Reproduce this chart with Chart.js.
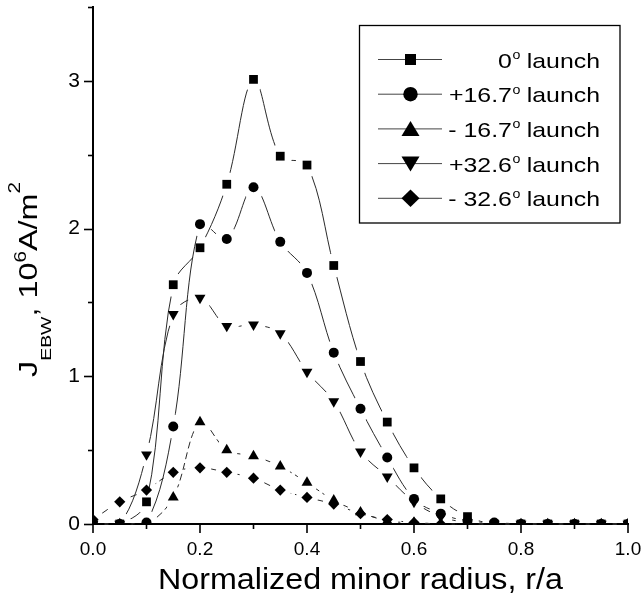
<!DOCTYPE html>
<html>
<head>
<meta charset="utf-8">
<script src="https://cdn.jsdelivr.net/npm/chart.js@4.4.1/dist/chart.umd.min.js"></script>
<style>
html,body{margin:0;padding:0;background:#fff;}
#wrap{width:642px;height:599px;position:relative;}
</style>
</head>
<body>
<div id="wrap"><canvas id="c" width="642" height="599"></canvas></div>
<script>
// ---- data ----
const radius      = [0.00,0.05,0.10,0.15,0.20,0.25,0.30,0.35,0.40,0.45,0.50,0.55,0.60,0.65,0.70,0.75,0.80,0.85,0.90,0.95,1.00];
const launch0     = [0,0,0.15,1.62,1.87,2.30,3.01,2.49,2.43,1.75,1.10,0.69,0.38,0.17,0.05,0,0,0,0,0,0];
const launchP167  = [0,0,0.01,0.66,2.03,1.93,2.28,1.91,1.70,1.16,0.78,0.45,0.17,0.07,0.02,0.01,0,0,0,0,0];
const launchM167  = [0,0,0,0.18,0.69,0.50,0.46,0.39,0.28,0.16,0.08,0.02,0.01,0,0,0,0,0,0,0,0];
const launchP326  = [0,0,0.47,1.42,1.53,1.34,1.35,1.29,1.03,0.83,0.49,0.32,0.15,0.05,0.01,0,0,0,0,0,0];
const launchM326  = [0.03,0.15,0.23,0.35,0.38,0.35,0.31,0.23,0.18,0.135,0.07,0.03,0.01,0,0,0,0,0,0,0,0];
const seriesAngles = ['0','+16.7','- 16.7','+32.6','- 32.6'];
const xTickLabels = ['0.0','0.2','0.4','0.6','0.8','1.0'];
const yTickLabels = ['0','1','2','3'];
const xTitle = 'Normalized minor radius, r/a';

const FAM = '"Liberation Sans", Arial, Helvetica, sans-serif';
const LINE = '#2a2a2a';

function toXY(vals){ return radius.map((r,i)=>({x:r,y:vals[i]})); }

const styles = [
  {pointStyle:'rect', pointRadius:6.2, rot:0, dash:[], gap:12},
  {pointStyle:'circle', pointRadius:5, rot:0, dash:[], gap:12},
  {pointStyle:'triangle', pointRadius:6.3, rot:0, dash:[7,4], gap:11},
  {pointStyle:'triangle', pointRadius:6.3, rot:180, dash:[], gap:12},
  {pointStyle:'rectRot', pointRadius:5.6, rot:0, dash:[7,4], gap:11}
];
const seriesVals = [launch0, launchP167, launchM167, launchP326, launchM326];

const datasets = [];
seriesVals.forEach((v,i)=>{
  // connecting curve (drawn first)
  datasets.push({
    label: seriesAngles[i] + '\u00B0 launch',
    data: toXY(v),
    borderColor: LINE,
    borderWidth: 1,
    borderDash: styles[i].dash,
    pointRadius: 0,
    tension: 0.35,
    fill: false,
    order: 1,
    gapRadius: styles[i].gap,
    clip: {left:0, top:0, right:0, bottom:1}
  });
  // symbols (drawn on top)
  datasets.push({
    label: seriesAngles[i] + '\u00B0 launch symbols',
    data: toXY(v),
    showLine: false,
    backgroundColor: '#000',
    pointBackgroundColor: '#000',
    pointBorderColor: '#000',
    pointBorderWidth: 0,
    pointStyle: styles[i].pointStyle,
    pointRadius: styles[i].pointRadius,
    pointRotation: styles[i].rot,
    order: 0,
    clip: {left:0, top:0, right:0, bottom:1}
  });
});

// Origin-style gaps: the curve of each series is not drawn next to its own symbols
const gapPlugin = {
  id: 'gaps',
  beforeDatasetDraw(chart, args){
    const ds = chart.data.datasets[args.index];
    if (!ds.gapRadius) return;
    const ctx = chart.ctx;
    ctx.save();
    ctx.beginPath();
    ctx.rect(0, 0, chart.width, chart.height);
    args.meta.data.forEach(p => {
      ctx.moveTo(p.x + ds.gapRadius, p.y);
      ctx.arc(p.x, p.y, ds.gapRadius, 0, Math.PI*2);
    });
    ctx.clip('evenodd');
  },
  afterDatasetDraw(chart, args){
    const ds = chart.data.datasets[args.index];
    if (!ds.gapRadius) return;
    chart.ctx.restore();
  }
};

function drawMarker(ctx, style, x, y){
  ctx.beginPath();
  if (style === 0) { ctx.rect(x-5.5, y-5.5, 11, 11); }
  else if (style === 1) { ctx.arc(x, y, 7.2, 0, Math.PI*2); }
  else if (style === 2) { ctx.moveTo(x, y-8); ctx.lineTo(x+9, y+7); ctx.lineTo(x-9, y+7); ctx.closePath(); }
  else if (style === 3) { ctx.moveTo(x, y+8); ctx.lineTo(x+9, y-7); ctx.lineTo(x-9, y-7); ctx.closePath(); }
  else { ctx.moveTo(x, y-8.7); ctx.lineTo(x+9, y); ctx.lineTo(x, y+8.7); ctx.lineTo(x-9, y); ctx.closePath(); }
  ctx.fillStyle = '#000';
  ctx.fill();
}

const decor = {
  id: 'decor',
  afterDraw(chart){
    const ctx = chart.ctx;
    const ca = chart.chartArea;
    const xs = chart.scales.x, ys = chart.scales.y;
    ctx.save();
    // tick marks (major longer, minor shorter)
    ctx.strokeStyle = '#000';
    ctx.lineWidth = 1.6;
    for (let i = 0; i <= 7; i++) {
      const py = Math.round(ys.getPixelForValue(i*0.5)) + 0.5;
      const len = (i % 2 === 0) ? 9 : 5;
      ctx.beginPath(); ctx.moveTo(ca.left, py); ctx.lineTo(ca.left - len, py); ctx.stroke();
    }
    for (let i = 0; i <= 10; i++) {
      const px = xs.getPixelForValue(i*0.1);
      const len = (i % 2 === 0) ? 9 : 5;
      ctx.beginPath(); ctx.moveTo(px, ca.bottom); ctx.lineTo(px, ca.bottom + len); ctx.stroke();
    }

    // x title
    ctx.fillStyle = '#000';
    ctx.font = '29px ' + FAM;
    ctx.textBaseline = 'alphabetic';
    ctx.textAlign = 'left';
    const tw = ctx.measureText(xTitle).width;
    const targetW = 405;
    const cx = (ca.left + ca.right) / 2;
    ctx.save();
    ctx.translate(cx - targetW/2, 589);
    ctx.scale(targetW / tw, 1);
    ctx.fillText(xTitle, 0, 0);
    ctx.restore();

    // y title (rotated, with sub/superscripts)
    const parts = [
      {t:'J', s:25, dy:0},
      {t:'EBW', s:15, dy:13.5},
      {t:',', s:25, dy:0},
      {t:' ', s:25, dy:0},
      {t:'10', s:25, dy:0},
      {t:'6', s:16, dy:-11.5},
      {t:'A/m', s:25, dy:0},
      {t:'2', s:16, dy:-17}
    ];
    let nat = 0;
    parts.forEach(p => { ctx.font = p.s + 'px ' + FAM; p.w = ctx.measureText(p.t).width; nat += p.w; });
    const yLen = 195;
    const k = yLen / nat;
    ctx.save();
    ctx.translate(37, 279.5 + yLen/2);
    ctx.rotate(-Math.PI/2);
    let px0 = 0;
    parts.forEach(p => {
      ctx.save();
      ctx.font = p.s + 'px ' + FAM;
      ctx.translate(px0, p.dy);
      ctx.scale(k, 1);
      ctx.fillText(p.t, 0, 0);
      ctx.restore();
      px0 += p.w * k;
    });
    ctx.restore();

    // legend
    ctx.strokeStyle = '#000';
    ctx.lineWidth = 1.3;
    ctx.strokeRect(359.5, 25.5, 260.5, 197.5);
    ctx.font = '21px ' + FAM;
    const refW = ctx.measureText('+16.7 launch').width;
    ctx.font = '12px ' + FAM;
    const refO = ctx.measureText('o').width;
    const ks = 151 / (refW + refO);
    for (let i = 0; i < seriesAngles.length; i++) {
      const ry = 59.5 + 34.7*i;
      ctx.strokeStyle = '#444';
      ctx.lineWidth = 1;
      ctx.beginPath(); ctx.moveTo(378, ry); ctx.lineTo(442, ry); ctx.stroke();
      drawMarker(ctx, i, 410.5, ry);
      ctx.fillStyle = '#000';
      ctx.font = '21px ' + FAM;
      const a = seriesAngles[i];
      const wa = ctx.measureText(a).width;
      const wl = ctx.measureText(' launch').width;
      ctx.font = '12px ' + FAM;
      const wo = ctx.measureText('o').width;
      const total = (wa + wo + wl);
      ctx.save();
      ctx.translate(600 - total*ks, ry + 8);
      ctx.scale(ks, 1);
      ctx.font = '21px ' + FAM;
      ctx.fillText(a, 0, 0);
      ctx.font = '12px ' + FAM;
      ctx.fillText('o', wa + 0.5, -8.5);
      ctx.font = '21px ' + FAM;
      ctx.fillText(' launch', wa + wo, 0);
      ctx.restore();
    }
    ctx.restore();
  }
};

new Chart(document.getElementById('c'), {
  type: 'line',
  data: { datasets },
  plugins: [gapPlugin, decor],
  options: {
    responsive: false,
    animation: false,
    devicePixelRatio: 1,
    layout: { padding: { top: 7, right: 14, left: 0, bottom: 0 } },
    plugins: { legend: { display: false }, tooltip: { enabled: false }, title: { display: false } },
    scales: {
      x: {
        type: 'linear',
        min: 0, max: 1,
        grid: { display: false, drawTicks: false },
        border: { display: true, color: '#000', width: 2 },
        ticks: {
          stepSize: 0.1,
          autoSkip: false,
          maxRotation: 0,
          padding: 14,
          color: '#000',
          font: { family: FAM, size: 19 },
          callback: (v) => {
            const n = Math.round(v * 10);
            return n % 2 === 0 ? xTickLabels[n / 2] : '';
          }
        },
        afterFit: (s) => { s.height = 75; s.paddingLeft = 0; s.paddingRight = 0; }
      },
      y: {
        type: 'linear',
        min: 0, max: 3.5,
        grid: { display: false, drawTicks: false },
        border: { display: true, color: '#000', width: 2 },
        ticks: {
          stepSize: 0.5,
          autoSkip: false,
          padding: 13,
          color: '#000',
          font: { family: FAM, size: 21 },
          callback: (v) => {
            const n = Math.round(v * 2);
            return n % 2 === 0 && yTickLabels[n / 2] !== undefined ? yTickLabels[n / 2] : '';
          }
        },
        afterFit: (s) => { s.width = 93; s.paddingTop = 0; s.paddingBottom = 0; }
      }
    }
  }
});
</script>
</body>
</html>
